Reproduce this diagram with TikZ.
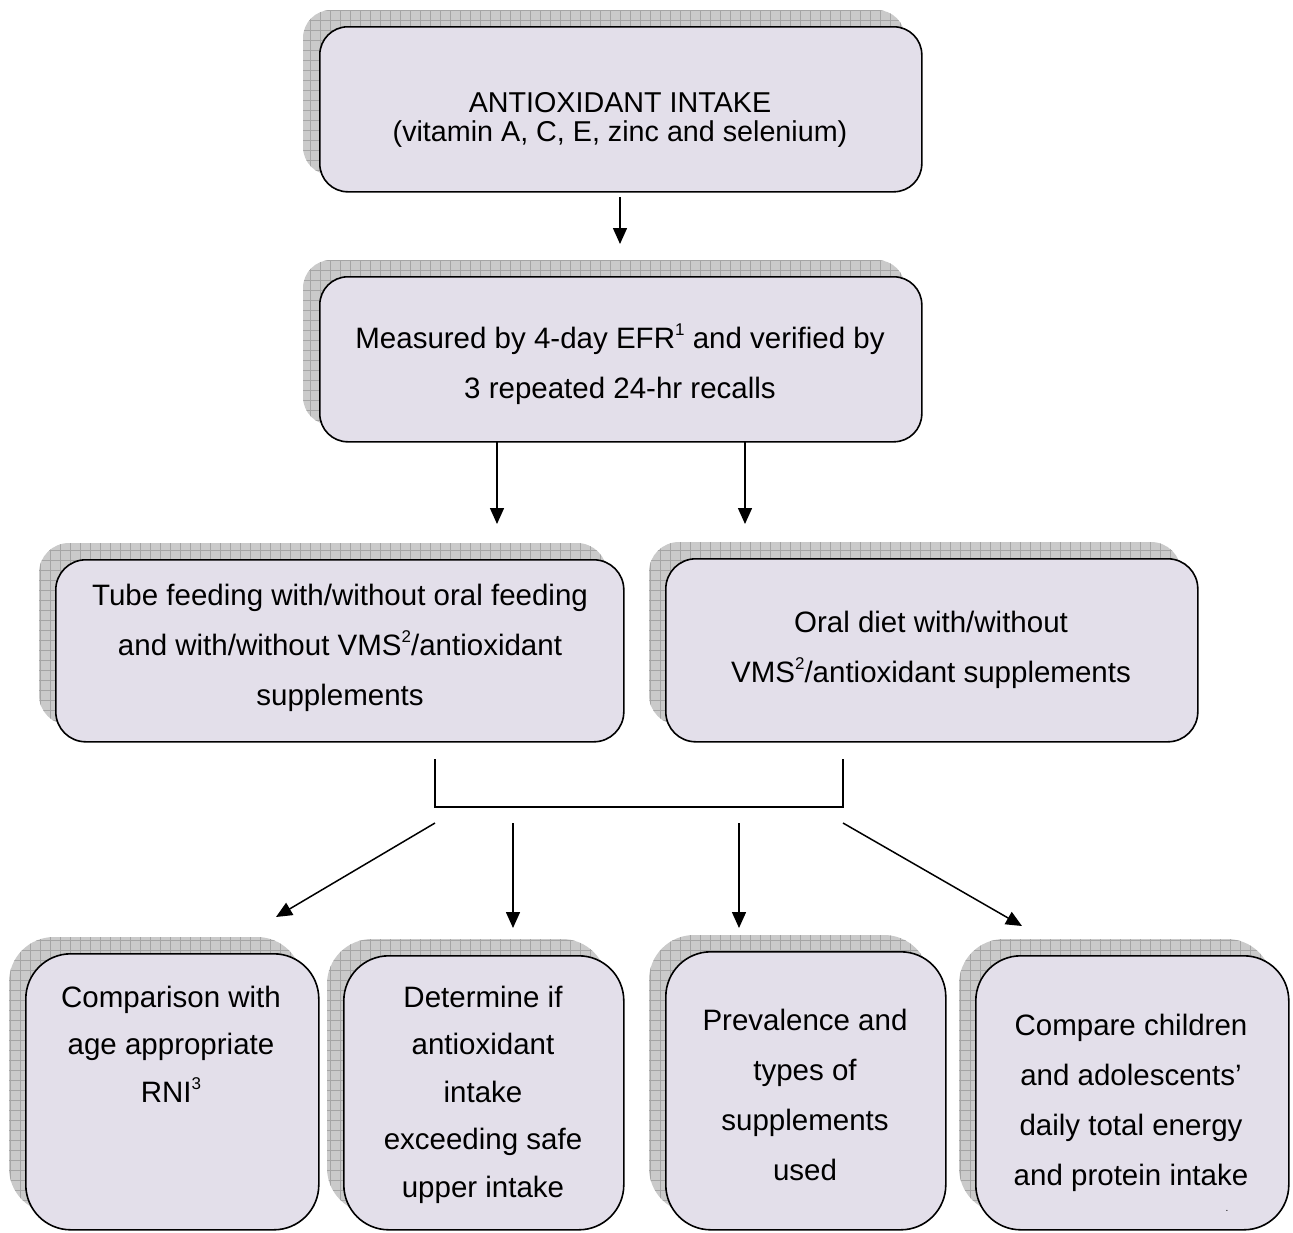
\documentclass[tikz,border=0pt]{standalone}
\usepackage{fontspec}
\setmainfont{Liberation Sans}
\usetikzlibrary{arrows.meta}
\definecolor{boxfill}{RGB}{227,223,234}
\definecolor{shadowbase}{RGB}{202,202,202}
\definecolor{shadowline}{RGB}{165,165,165}
% small raised footnote number
\newcommand\fnmark[1]{\raisebox{0.42em}{\fontsize{17}{17}\selectfont #1}}
\tikzset{
  flow/.style={draw=black, line width=1.6pt, fill=boxfill, inner sep=0pt},
  label/.style={inner sep=0pt, align=center, anchor=base, font=\fontsize{29.5}{#1}\selectfont},
  arr/.style={line width=1.5pt, -{Triangle[length=16pt,width=14pt]}},
  link/.style={line width=1.5pt}
}
% \flowbox{name}{x1}{y1}{x2}{y2}{radius}: rounded box with a hatched drop shadow up and left
\newcommand\flowbox[6]{%
  \begin{scope}
    \clip[rounded corners=#6] (#2-16,#3-16) rectangle (#4-16,#5-16);
    \fill[shadowbase] (#2-16,#3-16) rectangle (#4-16,#5-16);
    \draw[shadowline, line width=0.6pt, step=10pt] (#2-20,#3-20) grid (#4,#5);
  \end{scope}
  \node[flow, rounded corners=#6, anchor=north west,
        minimum width=#4pt-#2pt, minimum height=#5pt-#3pt] (#1) at (#2,#3) {};
}
\begin{document}
\begin{tikzpicture}[x=1pt,y=-1pt]
\useasboundingbox (0,0) rectangle (1293,1232);

% boxes
\flowbox{intake}{319}{26}{921}{191}{28}
\flowbox{measure}{319}{276}{921}{441}{28}
\flowbox{tube}{55}{559}{623}{741}{30}
\flowbox{oral}{665}{558}{1197}{741}{30}
\flowbox{rni}{25}{953}{318}{1229}{45}
\flowbox{upper}{343}{955}{623}{1229}{45}
\flowbox{prev}{665}{951}{945}{1229}{45}
\flowbox{energy}{975}{955}{1288}{1229}{45}

% box texts (each placed by the baseline of its last line)
\node[label=29pt, font=\fontsize{28.7}{29}\selectfont] (intake-t) at (620,141)
  {ANTIOXIDANT INTAKE\\(vitamin A, C, E, zinc and selenium)};
\node[label=50pt] (measure-t) at (620,398)
  {Measured by 4-day EFR\fnmark{1} and verified by\\3 repeated 24-hr recalls};
\node[label=50pt] (tube-t) at (340,705)
  {Tube feeding with/without oral feeding\\and with/without VMS\fnmark{2}/antioxidant\\supplements};
\node[label=50pt] (oral-t) at (931,682)
  {Oral diet with/without\\VMS\fnmark{2}/antioxidant supplements};
\node[label=47.5pt] (rni-t) at (171,1102)
  {Comparison with\\age appropriate\\RNI\fnmark{3}};
\node[label=47.5pt] (upper-t) at (483,1197)
  {Determine if\\antioxidant\\intake\\exceeding safe\\upper intake};
\node[label=50pt] (prev-t) at (805,1180)
  {Prevalence and\\types of\\supplements\\used};
\node[label=50pt] (energy-t) at (1131,1185)
  {Compare children\\and adolescents’\\daily total energy\\and protein intake};
\node[inner sep=0pt, font=\fontsize{10}{12}\selectfont, anchor=base] (energy-dot) at (1227,1211) {.};

% connector end points
\coordinate (a1s) at (620,197);
\coordinate (a1e) at (620,244);
\coordinate (a2s) at (497,441);
\coordinate (a2e) at (497,524);
\coordinate (a3s) at (745,441);
\coordinate (a3e) at (745,524);
\coordinate (bl) at (435,759);
\coordinate (br) at (843,759);
\coordinate (blb) at (435,807);
\coordinate (brb) at (843,807);
\coordinate (d1s) at (435,823);
\coordinate (d1e) at (276,917);
\coordinate (d2s) at (513,823);
\coordinate (d2e) at (513,928);
\coordinate (d3s) at (739,823);
\coordinate (d3e) at (739,928);
\coordinate (d4s) at (843,823);
\coordinate (d4e) at (1022,926);

% connectors
\draw[arr] (a1s) -- (a1e);
\draw[arr] (a2s) -- (a2e);
\draw[arr] (a3s) -- (a3e);
\draw[link] (bl) -- (blb) -- (brb) -- (br);
\draw[arr] (d1s) -- (d1e);
\draw[arr] (d2s) -- (d2e);
\draw[arr] (d3s) -- (d3e);
\draw[arr] (d4s) -- (d4e);
\end{tikzpicture}
\end{document}
